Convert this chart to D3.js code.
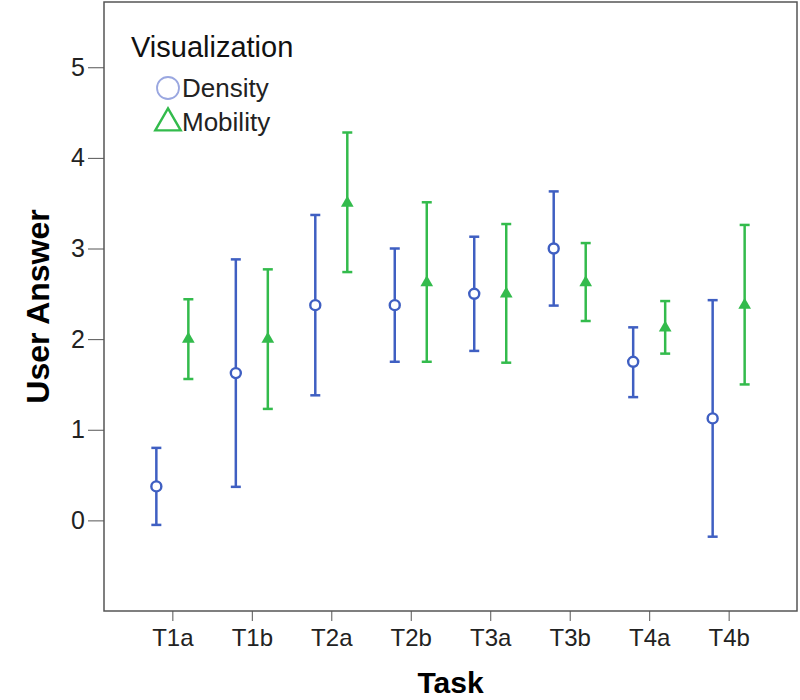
<!DOCTYPE html>
<html>
<head>
<meta charset="utf-8">
<script src="https://cdn.jsdelivr.net/npm/d3@7"></script>
<style>
  body { margin: 0; background: #fff; }
  svg { font-family: "Liberation Sans", Arial, sans-serif; }
</style>
</head>
<body>
<div class="chart"></div>
<script>
// data
const tasks = ['T1a', 'T1b', 'T2a', 'T2b', 'T3a', 'T3b', 'T4a', 'T4b'];
const densityMean = [0.375, 1.625, 2.375, 2.375, 2.5, 3.0, 1.75, 1.125];
const densityLow  = [-0.05, 0.37, 1.38, 1.75, 1.87, 2.37, 1.36, -0.18];
const densityHigh = [0.80, 2.88, 3.37, 3.00, 3.13, 3.63, 2.13, 2.43];
const mobilityMean = [2.0, 2.0, 3.5, 2.625, 2.5, 2.625, 2.125, 2.375];
const mobilityLow  = [1.56, 1.23, 2.74, 1.75, 1.74, 2.20, 1.84, 1.50];
const mobilityHigh = [2.44, 2.77, 4.28, 3.51, 3.27, 3.06, 2.42, 3.26];
const yTicks = [0, 1, 2, 3, 4, 5];

const blue = '#3f5fc2';
const green = '#33bb4c';

const width = 800, height = 700;
const plot = {left: 104, right: 797, top: 2, bottom: 611};

const svg = d3.select('.chart').append('svg')
  .attr('width', width).attr('height', height);

const x = d3.scalePoint().domain(tasks).range([plot.left, plot.right]).padding(0.86);
const y = d3.scaleLinear().domain([-1.0, 5.72]).range([plot.bottom, plot.top]);

// frame
svg.append('rect')
  .attr('x', plot.left).attr('y', plot.top)
  .attr('width', plot.right - plot.left).attr('height', plot.bottom - plot.top)
  .attr('fill', 'none').attr('stroke', '#555').attr('stroke-width', 1.5);

// axes
const yAxis = svg.append('g')
  .attr('transform', `translate(${plot.left},0)`)
  .call(d3.axisLeft(y).tickValues(yTicks).tickFormat(d3.format('d'))
    .tickSize(16).tickSizeOuter(0).tickPadding(3));
yAxis.select('.domain').remove();
yAxis.selectAll('line').attr('stroke', '#555');
yAxis.selectAll('text').style('font-size', '25px').attr('fill', '#222');

const xAxis = svg.append('g')
  .attr('transform', `translate(0,${plot.bottom})`)
  .call(d3.axisBottom(x).tickSize(10).tickSizeOuter(0).tickPadding(8));
xAxis.select('.domain').remove();
xAxis.selectAll('line').attr('stroke', '#555');
xAxis.selectAll('text').style('font-size', '24px').attr('fill', '#222');

// axis titles
svg.append('text')
  .attr('transform', `translate(49,${(plot.top + plot.bottom) / 2}) rotate(-90)`)
  .attr('text-anchor', 'middle')
  .style('font-size', '32px').style('font-weight', 'bold')
  .text('User Answer');
svg.append('text')
  .attr('x', (plot.left + plot.right) / 2).attr('y', 693)
  .attr('text-anchor', 'middle')
  .style('font-size', '30px').style('font-weight', 'bold')
  .text('Task');

const offset = 16, cap = 5;
const density = tasks.map((t, i) => ({task: t, mean: densityMean[i], lo: densityLow[i], hi: densityHigh[i]}));
const mobility = tasks.map((t, i) => ({task: t, mean: mobilityMean[i], lo: mobilityLow[i], hi: mobilityHigh[i]}));

function drawErrorBars(data, dx, color) {
  const g = svg.append('g').attr('stroke', color).attr('stroke-width', 2.5);
  g.selectAll('.bar').data(data).enter().append('line')
    .attr('x1', d => x(d.task) + dx).attr('x2', d => x(d.task) + dx)
    .attr('y1', d => y(d.lo)).attr('y2', d => y(d.hi));
  g.selectAll('.capHi').data(data).enter().append('line')
    .attr('x1', d => x(d.task) + dx - cap).attr('x2', d => x(d.task) + dx + cap)
    .attr('y1', d => y(d.hi)).attr('y2', d => y(d.hi));
  g.selectAll('.capLo').data(data).enter().append('line')
    .attr('x1', d => x(d.task) + dx - cap).attr('x2', d => x(d.task) + dx + cap)
    .attr('y1', d => y(d.lo)).attr('y2', d => y(d.lo));
}
drawErrorBars(density, -offset, blue);
drawErrorBars(mobility, offset, green);

// density markers: open circles
svg.selectAll('.dens').data(density).enter().append('circle')
  .attr('cx', d => x(d.task) - offset).attr('cy', d => y(d.mean))
  .attr('r', 5).attr('fill', '#fff').attr('stroke', blue).attr('stroke-width', 2.4);
// mobility markers: filled triangles
const tri = d3.symbol().type(d3.symbolTriangle).size(70);
svg.selectAll('.mob').data(mobility).enter().append('path')
  .attr('d', tri)
  .attr('transform', d => `translate(${x(d.task) + offset},${y(d.mean)})`)
  .attr('fill', green);

// legend
const legend = svg.append('g');
legend.append('text').attr('x', 131).attr('y', 57)
  .style('font-size', '29px').attr('fill', '#111').text('Visualization');
legend.append('circle').attr('cx', 168).attr('cy', 88).attr('r', 11)
  .attr('fill', 'none').attr('stroke', '#9aa7e0').attr('stroke-width', 1.8);
legend.append('text').attr('x', 182).attr('y', 97)
  .style('font-size', '26px').attr('fill', '#222').text('Density');
legend.append('path')
  .attr('d', d3.symbol().type(d3.symbolTriangle).size(280))
  .attr('transform', 'translate(168,123)')
  .attr('fill', 'none').attr('stroke', green).attr('stroke-width', 2.4);
legend.append('text').attr('x', 182).attr('y', 131)
  .style('font-size', '26px').attr('fill', '#222').text('Mobility');
</script>
</body>
</html>
